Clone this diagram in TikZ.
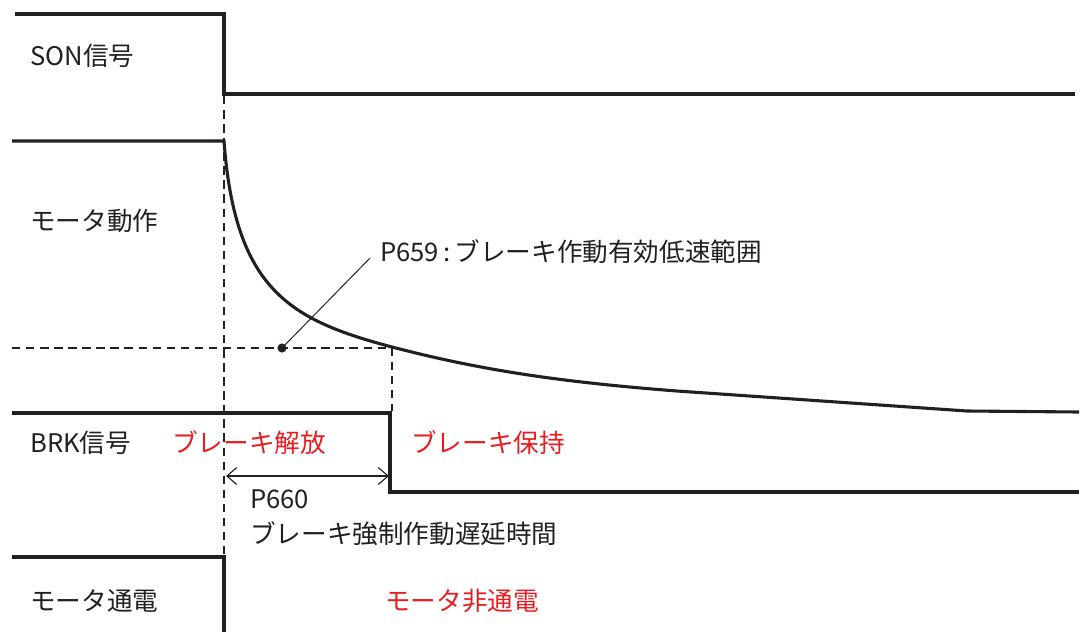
\documentclass[tikz,border=0pt]{standalone}
\usepackage{fontspec}
\setmainfont{Noto Sans CJK JP}
\usetikzlibrary{arrows.meta}
\definecolor{Ink}{RGB}{35,31,32}
\definecolor{Alert}{RGB}{230,30,35}
\tikzset{
  sig/.style={line width=2.2pt,draw=Ink,line join=miter},
  guide/.style={line width=0.9pt,draw=Ink,dash pattern=on 6pt off 4pt},
  leader/.style={line width=0.7pt,draw=Ink},
  lbl/.style={font=\fontsize{18.2}{25}\selectfont,text=Ink,anchor=west,inner sep=0pt,align=left},
  state/.style={lbl,text=Alert,anchor=center},
  dotmark/.style={circle,fill=Ink,inner sep=0pt,minimum size=6.5pt},
  span/.style={{Straight Barb[length=7pt,width=12pt]}-{Straight Barb[length=7pt,width=12pt]},line width=0.8pt,draw=Ink}
}
\begin{document}
\begin{tikzpicture}[x=0.025cm,y=-0.025cm]
  \useasboundingbox (0,0) rectangle (1082,632);
  % signal names
  \node[lbl] (son) at (30,56) {SON信号};
  \node[lbl] (motor) at (30,221) {モータ動作};
  \node[lbl] (brk) at (30,443) {BRK信号};
  \node[lbl] (power) at (30,601) {モータ通電};
  % waveforms
  \draw[sig] (15,14) -- (224,14) -- (224,94) -- (1075,94);
  \draw[sig] (12,141) -- (224,141) .. controls (235,290) and (290,320) .. (392,347)
    .. controls (480,370) and (560,382) .. (677,391) -- (967,411) -- (1079,412);
  \draw[sig] (12,413) -- (390,413) -- (390,492) -- (1079,492);
  \draw[sig] (12,557) -- (224,557) -- (224,632);
  % guides
  \draw[guide] (224,96) -- (224,555);
  \draw[guide] (12,348) -- (392,348) -- (392,411);
  % P659 leader
  \node[dotmark] (lowspeed) at (282,348) {};
  \node[lbl] (p659) at (380,252) {P659\,:\,ブレーキ作動有効低速範囲};
  \draw[leader] (lowspeed.center) -- ([shift={(-10,6)}]p659.west);
  % P660 delay
  \coordinate (dstart) at (226,476);
  \coordinate (dend) at (389,476);
  \draw[span] (dstart) -- (dend);
  \node[lbl,anchor=north west] (p660) at (250,489) {P660\\ブレーキ強制作動遅延時間};
  % states
  \node[state] (release) at (249,443) {ブレーキ解放};
  \node[state] (hold) at (488,443) {ブレーキ保持};
  \node[state] (nopower) at (462,601) {モータ非通電};
\end{tikzpicture}
\end{document}
